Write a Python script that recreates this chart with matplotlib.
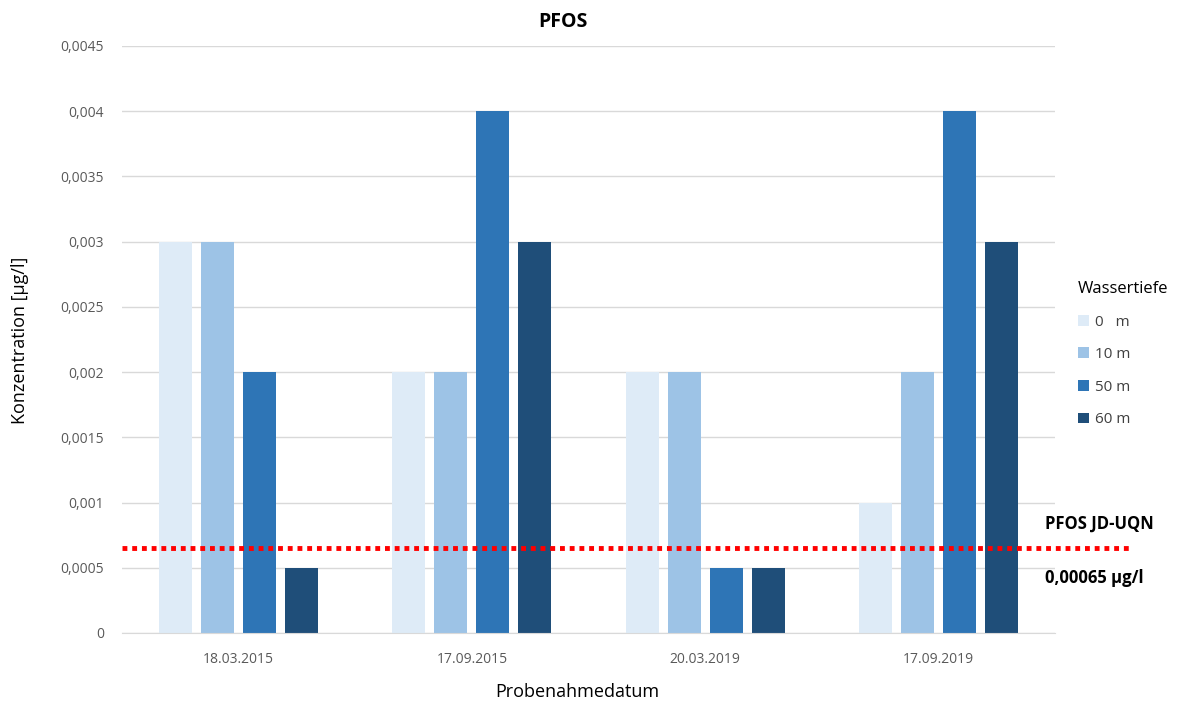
import numpy as np
import matplotlib.pyplot as plt
from matplotlib.ticker import FuncFormatter
import matplotlib.transforms as mtransforms

plt.rcParams['font.family'] = ['Open Sans', 'DejaVu Sans']

daten = ['18.03.2015', '17.09.2015', '20.03.2019', '17.09.2019']
tiefen = ['0   m', '10 m', '50 m', '60 m']
werte = [
    [0.003, 0.002, 0.002, 0.001],    # 0 m
    [0.003, 0.002, 0.002, 0.002],    # 10 m
    [0.002, 0.004, 0.0005, 0.004],   # 50 m
    [0.0005, 0.003, 0.0005, 0.003],  # 60 m
]
farben = ['#DEEBF7', '#9DC3E6', '#2E75B6', '#1F4E79']
uqn = 0.00065

fig = plt.figure(figsize=(11.89, 7.07), dpi=100)
ax = fig.add_axes([0.1026, 0.1047, 0.7847, 0.8303])

x = np.arange(len(daten))
breite = 0.142
abstand = 0.18
for i in range(len(tiefen)):
    ax.bar(x + (i - 1.5) * abstand, werte[i], breite, color=farben[i],
           label=tiefen[i], zorder=2)

ax.set_xlim(-0.5, 3.5)
ax.set_ylim(0, 0.0045)
ax.set_yticks(np.arange(0, 0.00451, 0.0005))

def fmt(v, pos):
    if abs(v) < 1e-12:
        return '0'
    s = ('%.4f' % v).rstrip('0')
    return s.replace('.', ',')

ax.yaxis.set_major_formatter(FuncFormatter(fmt))
ax.set_xticks(x)
ax.set_xticklabels(daten)
ax.tick_params(axis='both', length=0, labelsize=10, colors='#595959')
ax.tick_params(axis='x', pad=14)
ax.tick_params(axis='y', pad=13)
ax.grid(axis='y', color='#D9D9D9', linewidth=1, zorder=0)
for s in ['top', 'right', 'left']:
    ax.spines[s].set_visible(False)
ax.spines['bottom'].set_color('#D9D9D9')

# Grenzwertlinie
trans = mtransforms.blended_transform_factory(ax.transAxes, ax.transData)
ax.plot([0, 1.08], [uqn, uqn], transform=trans, color='#FF0000',
        linestyle=(0, (1, 1)), linewidth=3.5, clip_on=False, zorder=3)
fig.text(1045 / 1189, 1 - 524 / 707, 'PFOS JD-UQN', fontsize=12,
         fontweight='bold', va='center', ha='left')
fig.text(1045 / 1189, 1 - 578 / 707, '0,00065 µg/l', fontsize=12,
         fontweight='bold', va='center', ha='left')

fig.text(563 / 1189, 1 - 22 / 707, 'PFOS', fontsize=14, fontweight='bold',
         ha='center', va='center')
fig.text(20 / 1189, 1 - 340 / 707, 'Konzentration [µg/l]', fontsize=13,
         rotation=90, ha='center', va='center')
fig.text(577 / 1189, 1 - 692 / 707, 'Probenahmedatum', fontsize=13,
         ha='center', va='center')

leg = ax.legend(title='Wassertiefe', loc='center left',
                bbox_to_anchor=(1.01, 0.475), frameon=False, fontsize=11,
                title_fontsize=12, handlelength=0.7, handleheight=0.7,
                handletextpad=0.4, labelspacing=1.15, alignment='left')
for t in leg.get_texts():
    t.set_color('#404040')

fig.savefig('out.png', dpi=100)
